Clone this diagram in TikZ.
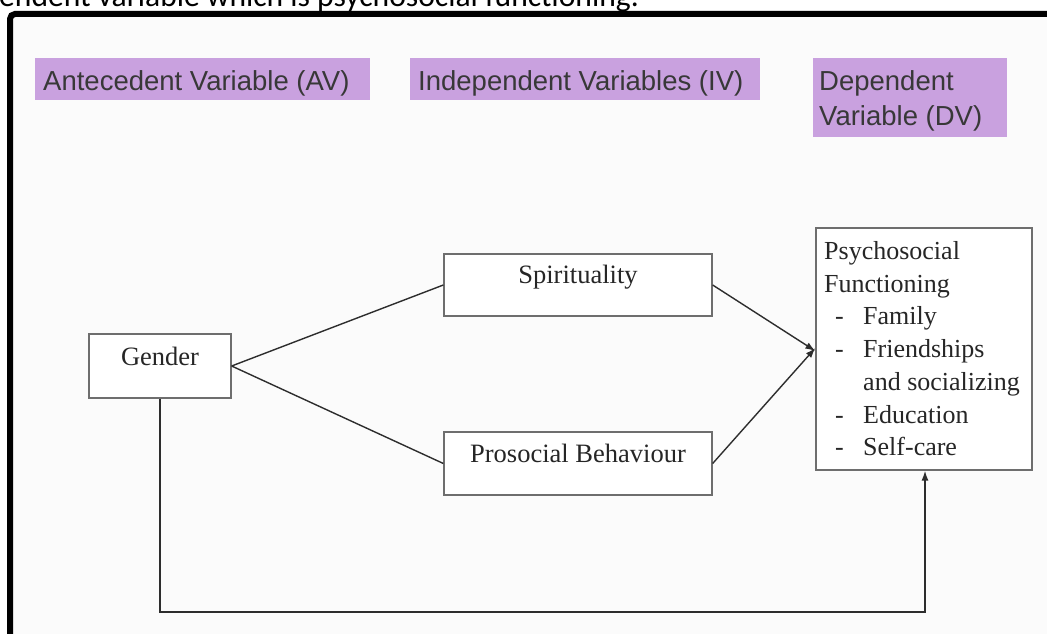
\documentclass[tikz,border=0pt]{standalone}
\usepackage{fontspec}
\setmainfont{Liberation Serif}
\newfontfamily\arialf{Liberation Sans}
\newfontfamily\calib{Carlito}
\usetikzlibrary{arrows.meta}
\definecolor{lav}{RGB}{201,161,223}
\definecolor{boxline}{RGB}{110,110,110}
\definecolor{connc}{RGB}{45,45,45}
\definecolor{bgc}{RGB}{251,251,251}
\begin{document}
\begin{tikzpicture}[x=1pt,y=-1pt,
  lab/.style={fill=lav, draw=none, inner sep=0pt},
  labtxt/.style={font=\arialf\fontsize{27.5}{34}\selectfont, text=black!78, inner sep=0pt, anchor=base west},
  vbox/.style={draw=boxline, line width=1.3pt, fill=white, inner sep=0pt},
  vtxt/.style={font=\fontsize{26.5}{32}\selectfont, text=black!85, inner sep=0pt, anchor=base},
  ptxt/.style={font=\fontsize{26}{32}\selectfont, text=black!85, inner sep=0pt, anchor=base west},
  conn/.style={draw=connc, line width=1.4pt},
  arr/.style={conn, -{Latex[length=10pt,width=7pt]}}]
\useasboundingbox (0,0) rectangle (1047,634);
% background of the embedded figure
\fill[bgc] (10,14) rectangle (1047,634);
% caption line cut at the top
\node[anchor=base west, inner sep=0pt, font=\calib\fontsize{31.6}{38}\selectfont] (cap) at (-1,6.5) {endent variable which is psychosocial functioning.};
% frame
\draw[line width=6pt, rounded corners=5pt] (10,645) -- (10,14) -- (1060,14);

% header labels
\node[lab, minimum width=335pt, minimum height=42pt] (avbox) at (202.5,79) {};
\node[labtxt] (avt) at (43,90) {Antecedent Variable (AV)};
\node[lab, minimum width=350pt, minimum height=42pt] (ivbox) at (585,79) {};
\node[labtxt] (ivt) at (418,90) {Independent Variables (IV)};
\node[lab, minimum width=194pt, minimum height=79pt] (dvbox) at (910,97.5) {};
\node[labtxt] (dvt1) at (819,90) {Dependent};
\node[labtxt] (dvt2) at (819,125) {Variable (DV)};

% variable boxes
\node[vbox, minimum width=142pt, minimum height=64pt] (gender) at (160,366) {};
\node[vtxt] (gendert) at (160,365) {Gender};
\node[vbox, minimum width=268pt, minimum height=62pt] (spir) at (578,285) {};
\node[vtxt] (spirt) at (578,283) {Spirituality};
\node[vbox, minimum width=268pt, minimum height=63pt] (pros) at (578,463.5) {};
\node[vtxt] (prost) at (578,462) {Prosocial Behaviour};
\node[vbox, minimum width=216pt, minimum height=242pt] (psych) at (924,349) {};
\node[ptxt] (ps1) at (824,259) {Psychosocial};
\node[ptxt] (ps2) at (824,292) {Functioning};
\node[ptxt] (d1) at (835,324) {-};
\node[ptxt] (i1) at (863,324) {Family};
\node[ptxt] (d2) at (835,357) {-};
\node[ptxt] (i2) at (863,357) {Friendships};
\node[ptxt] (i2b) at (863,390) {and socializing};
\node[ptxt] (d3) at (835,423) {-};
\node[ptxt] (i3) at (863,423) {Education};
\node[ptxt] (d4) at (835,455) {-};
\node[ptxt] (i4) at (863,455) {Self-care};

% connectors
\draw[conn] (gender.east) -- (spir.west);
\draw[conn] (gender.east) -- (pros.west);
\draw[arr] (spir.east) -- ([yshift=-2pt]psych.west);
\draw[arr] (pros.east) -- ([yshift=1pt]psych.west);
\coordinate (bl) at (160,612);
\coordinate (br) at (925,612);
\draw[arr] (gender.south) -- (bl) -- (br) -- (psych.south -| br);
\end{tikzpicture}
\end{document}
